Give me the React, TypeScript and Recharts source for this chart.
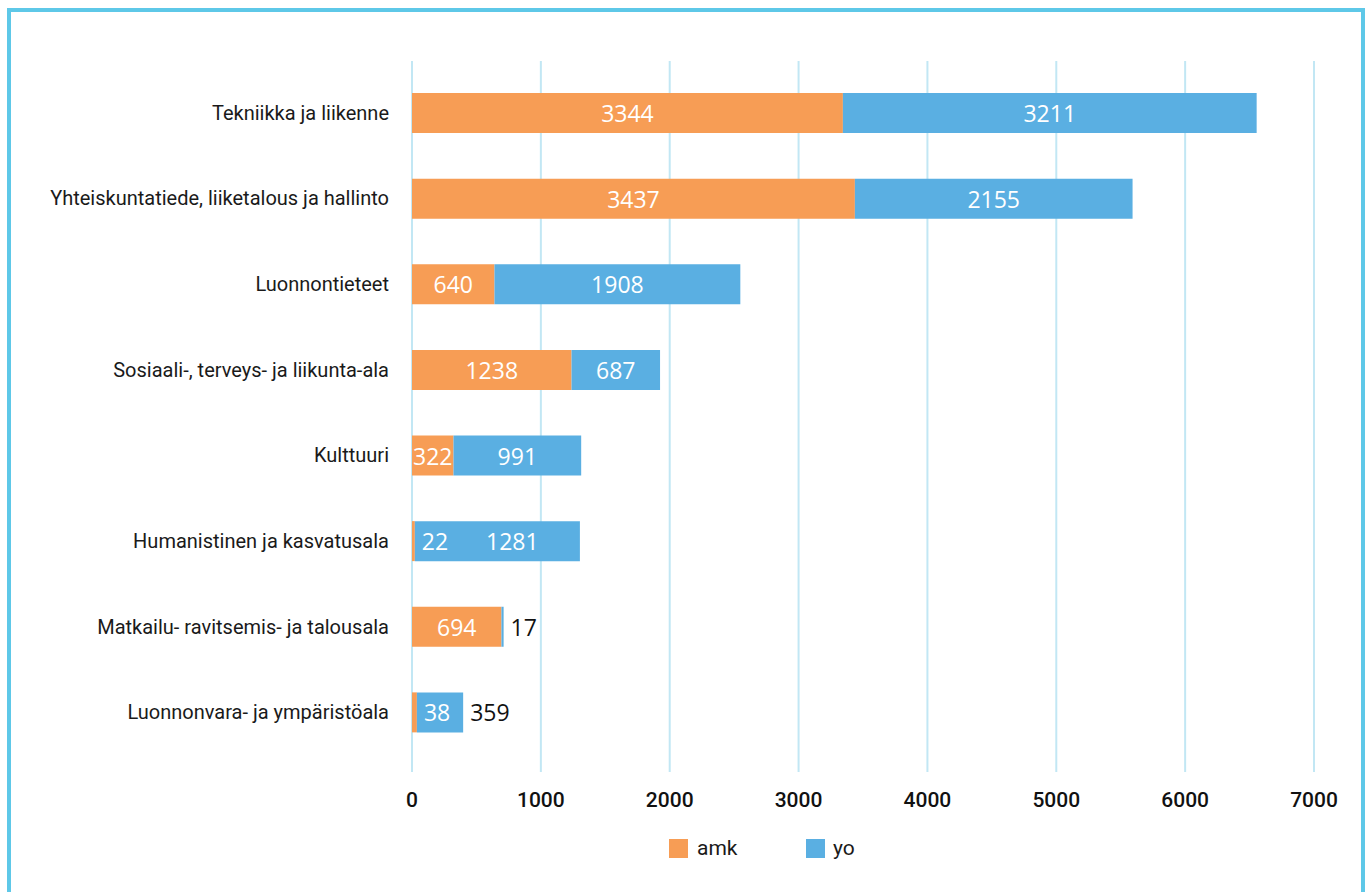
import React from "react";
import { BarChart, Bar, XAxis, YAxis, CartesianGrid, LabelList } from "recharts";

const categories = [
  "Tekniikka ja liikenne",
  "Yhteiskuntatiede, liiketalous ja hallinto",
  "Luonnontieteet",
  "Sosiaali-, terveys- ja liikunta-ala",
  "Kulttuuri",
  "Humanistinen ja kasvatusala",
  "Matkailu- ravitsemis- ja talousala",
  "Luonnonvara- ja ympäristöala",
];
const amk = [3344, 3437, 640, 1238, 322, 22, 694, 38];
const yo = [3211, 2155, 1908, 687, 991, 1281, 17, 359];
const xTicks = [0, 1000, 2000, 3000, 4000, 5000, 6000, 7000];

const data = categories.map((name, i) => ({ name, amk: amk[i], yo: yo[i] }));

const ORANGE = "#F79D55";
const BLUE = "#5AAFE2";
const NARROW = "Roboto, 'Open Sans', sans-serif";
const LABEL_FONT = "'Open Sans', sans-serif";

const AmkLabel = (props: any) => {
  const { x, y, width, height, value } = props;
  const small = value < 100;
  return (
    <text
      x={small ? x + width + 7 : x + width / 2}
      y={y + height / 2}
      textAnchor={small ? "start" : "middle"}
      dominantBaseline="central"
      fill="#fff"
      fontFamily={LABEL_FONT}
      fontSize={23}
    >
      {value}
    </text>
  );
};

const YoLabel = (props: any) => {
  const { x, y, width, height, value, index } = props;
  const small = value < 400;
  // when the amk label sits inside this bar, centre the yo label in the space left over
  const shifted = !small && amk[index] < 100;
  const cx = shifted ? (x + 30 + x + width) / 2 : x + width / 2;
  return (
    <text
      x={small ? x + width + 7 : cx}
      y={y + height / 2}
      textAnchor={small ? "start" : "middle"}
      dominantBaseline="central"
      fill={small ? "#111" : "#fff"}
      fontFamily={LABEL_FONT}
      fontWeight={small ? 500 : 400}
      fontSize={23}
    >
      {value}
    </text>
  );
};

const CatTick = (props: any) => {
  const { x, y, payload } = props;
  return (
    <text x={x} y={y} textAnchor="end" dominantBaseline="central" fill="#1a1a1a" fontFamily={NARROW} fontSize={20}>
      {payload.value}
    </text>
  );
};

const NumTick = (props: any) => {
  const { x, y, payload } = props;
  return (
    <text x={x} y={y + 26} textAnchor="middle" dominantBaseline="central" fill="#111" fontFamily={NARROW} fontWeight={500} fontSize={21}>
      {payload.value}
    </text>
  );
};

export default function App() {
  return (
    <div style={{ position: "absolute", left: 0, top: 0, width: 1368, height: 892, background: "#fff", overflow: "hidden" }}>
      <div
        style={{
          position: "absolute",
          left: 7,
          top: 8,
          width: 1350,
          height: 900,
          border: "4px solid #5EC8E8",
        }}
      />
      <div style={{ position: "absolute", left: 0, top: 0 }}>
        <BarChart
          width={1368}
          height={892}
          data={data}
          layout="vertical"
          margin={{ top: 61, right: 54, bottom: 80, left: 12 }}
        >
          <CartesianGrid horizontal={false} vertical stroke="#C2E7F4" strokeWidth={2} />
          <XAxis
            type="number"
            domain={[0, 7000]}
            ticks={xTicks}
            axisLine={false}
            tickLine={false}
            tickSize={0}
            height={40}
            tick={<NumTick />}
          />
          <YAxis
            type="category"
            dataKey="name"
            width={400}
            axisLine={false}
            tickLine={false}
            tickSize={0}
            tickMargin={23}
            padding={{ top: 9, bottom: 17 }}
            tick={<CatTick />}
          />
          <Bar dataKey="amk" stackId="a" fill={ORANGE} barSize={40} isAnimationActive={false}>
            <LabelList dataKey="amk" content={<AmkLabel />} />
          </Bar>
          <Bar dataKey="yo" stackId="a" fill={BLUE} barSize={40} isAnimationActive={false}>
            <LabelList dataKey="yo" content={<YoLabel />} />
          </Bar>
        </BarChart>
      </div>
      <div
        style={{
          position: "absolute",
          left: 669,
          top: 836,
          display: "flex",
          alignItems: "center",
          fontFamily: NARROW,
          fontSize: 21,
          color: "#1a1a1a",
          height: 24,
        }}
      >
        <span style={{ width: 19, height: 19, background: ORANGE, display: "inline-block" }} />
        <span style={{ marginLeft: 9, width: 109 }}>amk</span>
        <span style={{ width: 19, height: 19, background: BLUE, display: "inline-block" }} />
        <span style={{ marginLeft: 8 }}>yo</span>
      </div>
    </div>
  );
}
